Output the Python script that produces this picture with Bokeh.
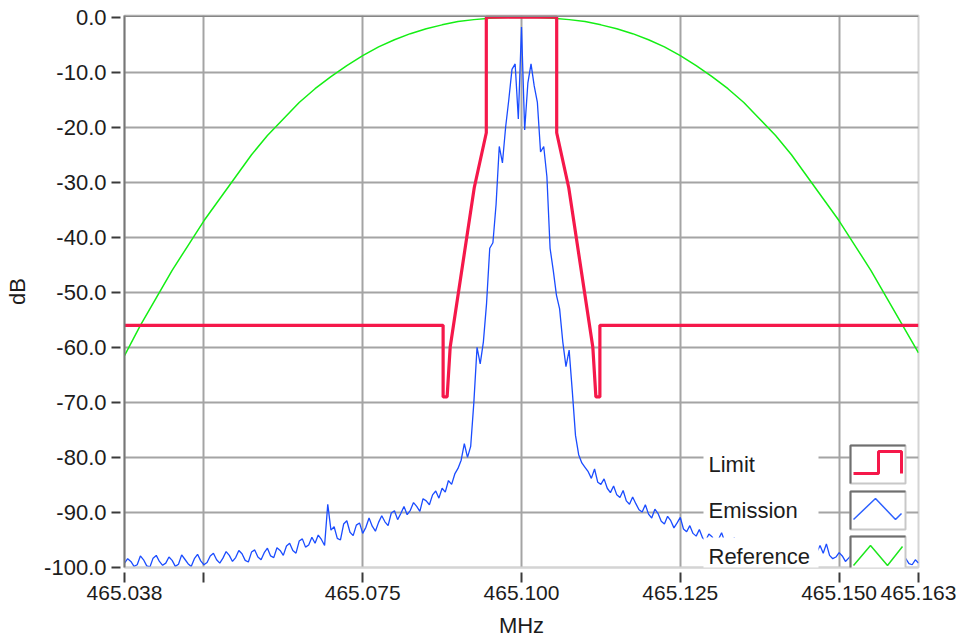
import numpy as np
from bokeh.plotting import figure
from bokeh.models import (Range1d, FixedTicker, Span, BoxAnnotation, Label,
                          PolyAnnotation)
from bokeh.embed import file_html
from bokeh.resources import INLINE

# ---------------- data ----------------
CENTER_MHZ = 465.100
X_MIN, X_MAX = 465.0375, 465.1625
Y_MIN, Y_MAX = -100.0, 0.3

x_ticks = [465.0375, 465.050, 465.075, 465.100, 465.125, 465.150, 465.1625]
x_tick_labels = ["465.038", "", "465.075", "465.100", "465.125", "465.150", "465.163"]
x_grid = [465.050, 465.075, 465.100, 465.125, 465.150]

y_ticks = [0, -10, -20, -30, -40, -50, -60, -70, -80, -90, -100]
y_tick_labels = ["0.0", "-10.0", "-20.0", "-30.0", "-40.0", "-50.0",
                 "-60.0", "-70.0", "-80.0", "-90.0", "-100.0"]
y_grid = [-10, -20, -30, -40, -50, -60, -70, -80, -90]

x_title = "MHz"
y_title = "dB"

# Limit mask (MHz, dB)
limit_mhz = [465.0375, 465.08766, 465.08766, 465.08829, 465.08877, 465.09256,
             465.09446, 465.09446, 465.10554, 465.10554, 465.10744, 465.11123,
             465.11171, 465.11234, 465.11234, 465.1625]
limit_db = [-56, -56, -69, -69, -60, -31, -21, 0, 0, -21, -31, -60, -69, -69, -56, -56]

# Reference curve (offset kHz from centre, dB)
reference_khz = [-62.5, -60.0, -57.5, -55.0, -52.5, -50.0, -47.5, -45.0, -42.5, -40.0,
                 -37.5, -35.0, -32.5, -30.0, -27.5, -25.0, -22.5, -20.0, -17.5, -15.0,
                 -12.5, -10.0, -7.5, -5.0, -2.5, 0.0, 2.5, 5.0, 7.5, 10.0,
                 12.5, 15.0, 17.5, 20.0, 22.5, 25.0, 27.5, 30.0, 32.5, 35.0,
                 37.5, 40.0, 42.5, 45.0, 47.5, 50.0, 52.5, 55.0, 57.5, 60.0, 62.5]
reference_db = [-61.5, -56.0, -51.0, -46.0, -41.5, -37.0, -33.0, -29.0, -25.0, -21.5,
                -18.5, -15.5, -13.0, -10.8, -8.8, -7.0, -5.4, -4.1, -3.0, -2.1,
                -1.4, -0.8, -0.45, -0.2, -0.05, 0.0, -0.05, -0.2, -0.45, -0.8,
                -1.4, -2.1, -3.0, -4.1, -5.4, -7.0, -8.8, -10.8, -13.0, -15.5,
                -18.5, -21.5, -25.0, -29.0, -33.0, -37.0, -41.5, -46.0, -51.0, -56.0, -61.0]

# Emission spectrum: 0.5 kHz steps from -62.5 kHz to +62.5 kHz
emission_start_khz = -62.5
emission_step_khz = 0.5
emission_db = [
    # -62.5 .. -10.5 kHz
    -99.2, -98.4, -98.9, -99.8, -99.5, -97.9, -98.6, -99.7, -99.9, -98.3,
    -97.8, -98.9, -99.6, -99.2, -98.1, -98.7, -99.8, -99.4, -97.7, -98.5,
    -99.3, -99.8, -98.4, -97.6, -98.8, -99.5, -99.1, -97.9, -97.4, -98.6,
    -99.2, -98.3, -97.1, -97.8, -98.9, -98.2, -96.9, -97.5, -98.7, -99.0,
    -97.2, -96.8, -98.1, -98.6, -97.3, -96.5, -97.9, -98.2, -96.4, -96.9,
    -97.8, -96.1, -95.6, -96.9, -97.4, -95.2, -94.8, -96.3, -95.9, -94.5,
    -95.6, -94.1, -94.9, -96.0, -88.5, -93.2, -92.6, -94.7, -95.0, -92.1,
    -91.5, -93.6, -94.2, -92.3, -91.9, -93.8, -92.7, -91.0, -92.5, -93.4,
    -91.8, -90.6, -91.7, -92.4, -90.1, -89.7, -91.3, -90.2, -88.9, -90.4,
    -89.6, -88.2, -88.9, -89.8, -87.5, -87.9, -88.6, -86.8, -86.1, -87.4,
    -85.6, -86.3, -84.2, -84.9, -83.0,
    # -10.0 .. +10.0 kHz
    -82.0, -80.5, -77.5, -80.0, -78.0, -70.0, -60.0, -63.0, -59.0, -52.0,
    -42.0, -41.0, -34.0, -23.5, -26.5, -20.0, -15.0, -9.5, -8.5, -18.5,
    -1.8,
    -20.5, -12.0, -8.5, -12.5, -15.5, -24.5, -23.5, -29.0, -42.0, -46.0,
    -50.5, -53.0, -59.0, -63.5, -60.5, -68.0, -76.0, -79.5, -81.0, -81.8,
    # +10.5 .. +62.5 kHz
    -82.6, -83.8, -82.1, -84.5, -84.9,
    -83.9, -85.6, -86.4, -85.2, -86.8, -87.3, -86.0, -87.9, -88.5, -87.2,
    -88.4, -89.5, -89.9, -88.6, -90.3, -91.0, -89.4, -90.2, -91.6, -92.1,
    -90.7, -91.5, -92.8, -91.9, -90.9, -93.0, -93.5, -92.4, -93.8, -94.3,
    -93.1, -94.6, -95.1, -93.9, -94.4, -95.5, -94.9, -93.7, -95.3, -96.0,
    -95.5, -94.6, -96.2, -96.8, -95.7, -95.2, -96.6, -97.1, -96.4, -95.8,
    -97.0, -96.3, -96.9, -97.6, -97.2, -96.0, -96.7, -97.8, -97.4, -96.6,
    -97.5, -98.3, -97.7, -96.9, -97.6, -98.5, -98.0, -97.2, -96.0, -97.4,
    -95.7, -97.8, -98.4, -98.1, -97.3, -97.9, -98.9, -98.3, -97.6, -98.2,
    -98.9, -98.4, -97.8, -98.7, -99.3, -98.8, -98.0, -98.6, -99.4, -99.0,
    -98.2, -98.7, -99.6, -99.1, -97.5, -98.4, -99.3, -99.5, -98.6, -99.2,
]

series_names = ["Limit", "Emission", "Reference"]

# ---------------- styles ----------------
FONT = "Liberation Sans"
TXT = "#1c1c1c"
RED = "#f5184a"
BLUE = "#1a4cff"
GREEN = "#14ee14"

emission_mhz = CENTER_MHZ + (emission_start_khz + emission_step_khz * np.arange(len(emission_db))) / 1000.0
reference_mhz = CENTER_MHZ + np.array(reference_khz) / 1000.0

FRAME_L, FRAME_T, FRAME_W, FRAME_H = 124, 15, 794, 552
p = figure(width=956, height=643,
           x_range=Range1d(X_MIN, X_MAX), y_range=Range1d(Y_MIN, Y_MAX),
           output_backend="svg", toolbar_location=None,
           min_border_left=FRAME_L, min_border_right=956 - FRAME_L - FRAME_W,
           min_border_top=FRAME_T, min_border_bottom=643 - FRAME_T - FRAME_H,
           background_fill_color="white", border_fill_color="white")
p.outline_line_color = "#d4d4d4"
p.outline_line_width = 2

# grids
p.xgrid.ticker = FixedTicker(ticks=x_grid)
p.ygrid.ticker = FixedTicker(ticks=y_grid)
for g in (p.xgrid, p.ygrid):
    g.grid_line_color = "#a4a4a4"
    g.grid_line_width = 2

# axes
p.xaxis.ticker = FixedTicker(ticks=x_ticks)
p.xaxis.major_label_overrides = dict(zip(x_ticks, x_tick_labels))
p.yaxis.ticker = FixedTicker(ticks=y_ticks)
p.yaxis.major_label_overrides = dict(zip(y_ticks, y_tick_labels))
for ax in (p.xaxis, p.yaxis):
    ax.minor_tick_line_color = None
    ax.major_tick_line_color = "#3a3a3a"
    ax.major_tick_line_width = 2
    ax.major_label_text_font = FONT
    ax.major_label_text_color = TXT
    ax.axis_label_text_font = FONT
    ax.axis_label_text_font_size = "22px"
    ax.axis_label_text_font_style = "normal"
    ax.axis_label_text_color = TXT
p.xaxis.major_label_text_font_size = "21px"
p.yaxis.major_label_text_font_size = "22px"
p.xaxis.axis_label = x_title
p.yaxis.axis_label = y_title
p.xaxis.axis_line_color = "#d4d4d4"
p.xaxis.axis_line_width = 2
p.yaxis.axis_line_color = "#777777"
p.yaxis.axis_line_width = 2
p.xaxis.major_tick_in = -5
p.xaxis.major_tick_out = 15
p.xaxis.major_label_standoff = 3
p.xaxis.axis_label_standoff = 10
p.yaxis.major_tick_in = -4
p.yaxis.major_tick_out = 13
p.yaxis.major_label_standoff = 5
p.yaxis.axis_label_standoff = 11

# series
p.line(reference_mhz, reference_db, line_color=GREEN, line_width=1.5)
p.line(emission_mhz, emission_db, line_color=BLUE, line_width=1.3)
p.line(limit_mhz, limit_db, line_color=RED, line_width=3.2)

# top border
p.add_layout(Span(location=Y_MAX, dimension="width", line_color="#868686", line_width=3))


def px2x(px):
    return X_MIN + (px - FRAME_L) / FRAME_W * (X_MAX - X_MIN)


def px2y(py):
    return Y_MAX - (py - FRAME_T) / FRAME_H * (Y_MAX - Y_MIN)


# ---------------- legend (LabVIEW style: label left, sample box right) ----------------
legend_rows = [(446, 482), (492, 528), (537, 574)]
legend_colors = [RED, "#2e62ff", "#1ee61e"]
legend_widths = [3, 1.5, 1.5]
legend_samples = [
    [(853, 473), (878, 473), (878, 451), (901, 451), (901, 473)],
    [(853, 519), (875, 498), (895, 519), (901, 513)],
    [(853, 565), (870, 545), (887, 565), (902, 546)],
]
for name, (top, bot), col, lw, pts in zip(series_names, legend_rows, legend_colors,
                                            legend_widths, legend_samples):
    p.add_layout(BoxAnnotation(left=px2x(703), right=px2x(818), top=px2y(top),
                               bottom=px2y(bot), fill_color="white", fill_alpha=1,
                               line_color=None))
    p.add_layout(Label(x=px2x(708), y=px2y((top + bot) / 2), text=name,
                       text_font=FONT, text_font_size="22px", text_color=TXT,
                       text_align="left", text_baseline="middle"))
    # sample box (sunken look)
    p.add_layout(BoxAnnotation(left=px2x(850), right=px2x(905), top=px2y(top - 1),
                               bottom=px2y(bot + 1), fill_color="white", fill_alpha=1,
                               line_color="#c8c8c8", line_alpha=1, line_width=2))
    dark = [(850, bot + 1), (850, top - 1), (905, top - 1)]
    dpath = dark + dark[-2::-1]
    p.add_layout(PolyAnnotation(xs=[px2x(a) for a, b in dpath],
                                ys=[px2y(b) for a, b in dpath],
                                fill_alpha=0, line_color="#6f6f6f", line_alpha=1,
                                line_width=2))
    path = pts + pts[-2::-1]
    p.add_layout(PolyAnnotation(xs=[px2x(a) for a, b in path],
                                ys=[px2y(b) for a, b in path],
                                fill_alpha=0, line_color=col, line_alpha=1,
                                line_width=lw))

open("out.html", "w").write(file_html(p, INLINE))
